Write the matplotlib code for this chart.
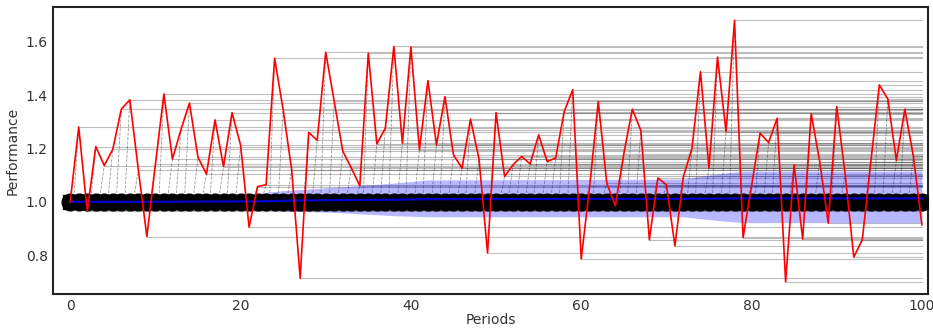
import numpy as np
import matplotlib
matplotlib.use("Agg")
import matplotlib.pyplot as plt

# performance per period
perf = [1.00, 1.28, 0.964, 1.207, 1.136, 1.197, 1.347, 1.382, 1.12, 0.87,
        1.14, 1.404, 1.16, 1.27, 1.37, 1.167, 1.104, 1.307, 1.132, 1.334,
        1.213, 0.905, 1.057, 1.064, 1.538, 1.345, 1.12, 0.714, 1.26, 1.23,
        1.56, 1.376, 1.19, 1.127, 1.06, 1.557, 1.217, 1.276, 1.582, 1.22,
        1.58, 1.195, 1.454, 1.213, 1.394, 1.176, 1.126, 1.31, 1.16, 0.808,
        1.334, 1.095, 1.139, 1.17, 1.142, 1.251, 1.151, 1.164, 1.338, 1.42,
        0.786, 1.06, 1.376, 1.07, 0.985, 1.18, 1.347, 1.267, 0.858, 1.089,
        1.064, 0.835, 1.095, 1.2, 1.488, 1.126, 1.542, 1.263, 1.68, 0.866,
        1.06, 1.257, 1.222, 1.313, 0.70, 1.139, 0.86, 1.33, 1.151, 0.92,
        1.357, 1.1, 0.793, 0.858, 1.149, 1.438, 1.385, 1.155, 1.347, 1.17,
        0.914]
periods = list(range(len(perf)))
baseline = [1.0] * len(perf)

# spread band around the baseline
band_x = [0, 10, 22, 25, 30, 38, 42, 72, 76, 79, 100]
band_mean = [1.0, 1.0, 1.002, 1.004, 1.006, 1.008, 1.01, 1.011, 1.012, 1.013, 1.013]
band_hi = [1.0, 1.012, 1.032, 1.042, 1.052, 1.07, 1.082, 1.085, 1.105, 1.115, 1.115]
band_lo = [1.0, 0.988, 0.975, 0.965, 0.962, 0.948, 0.944, 0.944, 0.93, 0.922, 0.922]

fig = plt.figure(figsize=(9.33, 3.31), dpi=100)
ax = fig.add_axes([0.057, 0.112, 0.9375, 0.867])

last = periods[-1]
for i, y in zip(periods, perf):
    ax.plot([i, last], [y, y], color='k', alpha=0.25, lw=0.8, zorder=1)
    if y > 1.0:
        ax.plot([i - 0.6, i], [1.0, y], color='k', alpha=0.4, lw=0.6,
                ls='--', zorder=1)

ax.fill_between(band_x, band_lo, band_hi, color='blue', alpha=0.28,
                lw=0, zorder=2)
ax.plot(periods, baseline, 'o-', color='k', lw=11, ms=12, zorder=3)
ax.plot(band_x, band_mean, color='#0000cc', lw=1.6, zorder=4)
ax.plot(periods, perf, color='red', lw=1.2, zorder=5)

ax.set_xlim(-2, 100.7)
ax.set_ylim(0.655, 1.73)
ax.set_xticks([0, 20, 40, 60, 80, 100])
ax.set_yticks([0.8, 1.0, 1.2, 1.4, 1.6])
ax.tick_params(length=0, labelsize=10, labelcolor='#333333', pad=4)
for s in ax.spines.values():
    s.set_color('#222222')
    s.set_linewidth(1.5)
ax.set_xlabel('Periods', fontsize=10, color='#333333', labelpad=0)
ax.set_ylabel('Performance', fontsize=10, color='#333333')

fig.savefig('out.png', dpi=100)
